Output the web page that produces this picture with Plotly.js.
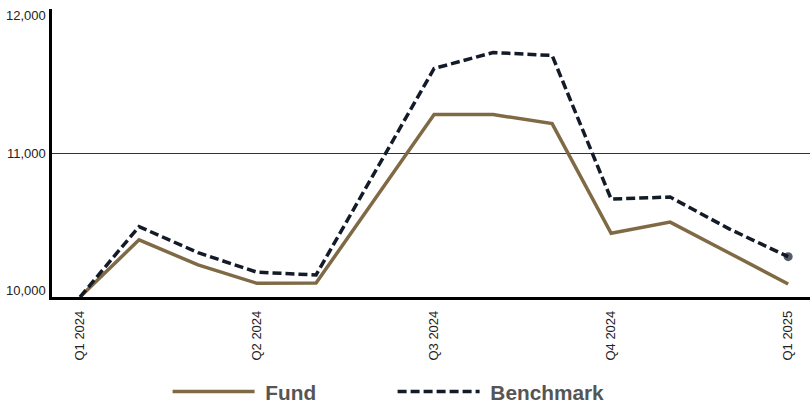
<!DOCTYPE html>
<html>
<head>
<meta charset="utf-8">
<script src="https://cdn.plot.ly/plotly-3.0.1.min.js"></script>
<style>html,body{margin:0;padding:0;background:#fff;}#chart{width:810px;height:405px;}</style>
</head>
<body>
<div id="chart"></div>
<script>
// Month index (0 = Q1 2024 ... 12 = Q1 2025)
const months = [0,1,2,3,4,5,6,7,8,9,10,11,12];
const fundValues = [10000,10397,10223,10095,10097,10682,11267,11267,11204,10443,10520,10306,10090];
const benchmarkValues = [10000,10489,10308,10172,10153,10870,11587,11698,11677,10680,10694,10473,10280];
const tickPositions = [0,3,6,9,12];
const tickLabels = ["Q1 2024","Q2 2024","Q3 2024","Q4 2024","Q1 2025"];
const yTicks = [10000,11000,12000];
const seriesNames = ["Fund","Benchmark"];

const benchMarkerSizes = benchmarkValues.map((v,i)=> i===benchmarkValues.length-1 ? 9 : 0);

const traces = [
  {
    x: months, y: fundValues, name: "\u00a0" + seriesNames[0], type: "scatter", mode: "lines",
    line: {color: "#7f6a45", width: 3.5}
  },
  {
    x: months, y: benchmarkValues, name: "\u00a0" + seriesNames[1], type: "scatter", mode: "lines+markers",
    line: {color: "#131b29", width: 3.5, dash: "9px,4px"},
    marker: {size: benchMarkerSizes, color: "#0f1724", line: {width: 0}}
  }
];

// y tick labels kept inside the plot's vertical extent, as in the reference
const yLabelShift = yTicks.map((v,i)=> i===0 ? 7 : (i===yTicks.length-1 ? -6 : 0));
const annotations = yTicks.map((v,i)=>({
  xref: "paper", yref: "y", x: 0, y: v, xanchor: "right", yanchor: "middle",
  xshift: -4, yshift: yLabelShift[i], showarrow: false,
  text: v.toLocaleString("en-US"), font: {size: 13, color: "#222"}
}));

const layout = {
  width: 810, height: 405,
  margin: {l: 52, r: 0, t: 9, b: 108},
  paper_bgcolor: "#fff", plot_bgcolor: "#fff",
  font: {family: "Arial, 'Liberation Sans', sans-serif", color: "#222"},
  showlegend: true,
  annotations: annotations,
  legend: {
    orientation: "h", xref: "paper", x: 0.1525, xanchor: "left",
    yref: "container", y: 0.032, yanchor: "middle",
    font: {size: 20.8, color: "#555", weight: "bold"},
    itemwidth: 82, entrywidth: 128, traceorder: "normal"
  },
  xaxis: {
    range: [-0.475, 12.37], tickvals: tickPositions, ticktext: tickLabels,
    tickangle: -90, ticks: "", showgrid: false, zeroline: false,
    showline: true, linecolor: "#000", linewidth: 2.5, ticklabelstandoff: 6,
    tickfont: {size: 13, color: "#222"}, fixedrange: true
  },
  yaxis: {
    range: [10000, 12000], tickvals: yTicks, showticklabels: false,
    ticks: "", showgrid: true, gridcolor: "#333", gridwidth: 1, zeroline: false,
    showline: true, linecolor: "#000", linewidth: 3, fixedrange: true
  }
};

Plotly.newPlot("chart", traces, layout, {displayModeBar: false, staticPlot: true});
</script>
</body>
</html>
